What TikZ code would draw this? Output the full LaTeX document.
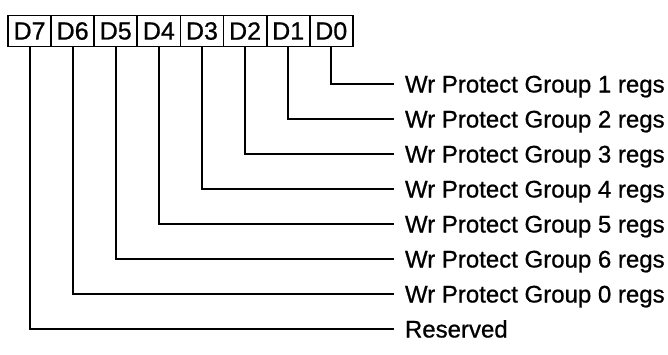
\documentclass[tikz,border=0pt]{standalone}
\usepackage{fontspec}
\setmainfont{Liberation Sans}
\newfontfamily\thicksans[FakeBold=0.8]{Liberation Sans}
\begin{document}
\begin{tikzpicture}[x=1pt,y=1pt,
  bitbox/.style={draw, line width=1.8pt, minimum width=43.1pt, minimum height=31pt,
    inner sep=0pt, outer sep=0pt, font=\thicksans\fontsize{25}{28}\selectfont},
  lbl/.style={anchor=west, inner xsep=11pt, inner ysep=0pt, outer sep=0pt,
    text height=17pt, text depth=0pt, font=\thicksans\fontsize{24}{28}\selectfont},
  wire/.style={line width=2pt}]
\useasboundingbox (0,0) rectangle (668,-354);
\foreach \i in {0,...,7}{
  \node[bitbox] (b\i) at ({8+43.1*(7-\i)+21.55},-31) {D\i};
}
\foreach \i/\t in {0/Wr Protect Group 1 regs,1/Wr Protect Group 2 regs,2/Wr Protect Group 3 regs,
  3/Wr Protect Group 4 regs,4/Wr Protect Group 5 regs,5/Wr Protect Group 6 regs,
  6/Wr Protect Group 0 regs,7/Reserved}{
  \node[lbl] (l\i) at (394,{-84-35*\i}) {\t};
  \draw[wire] (b\i.south) |- (l\i.west);
}
\end{tikzpicture}
\end{document}
